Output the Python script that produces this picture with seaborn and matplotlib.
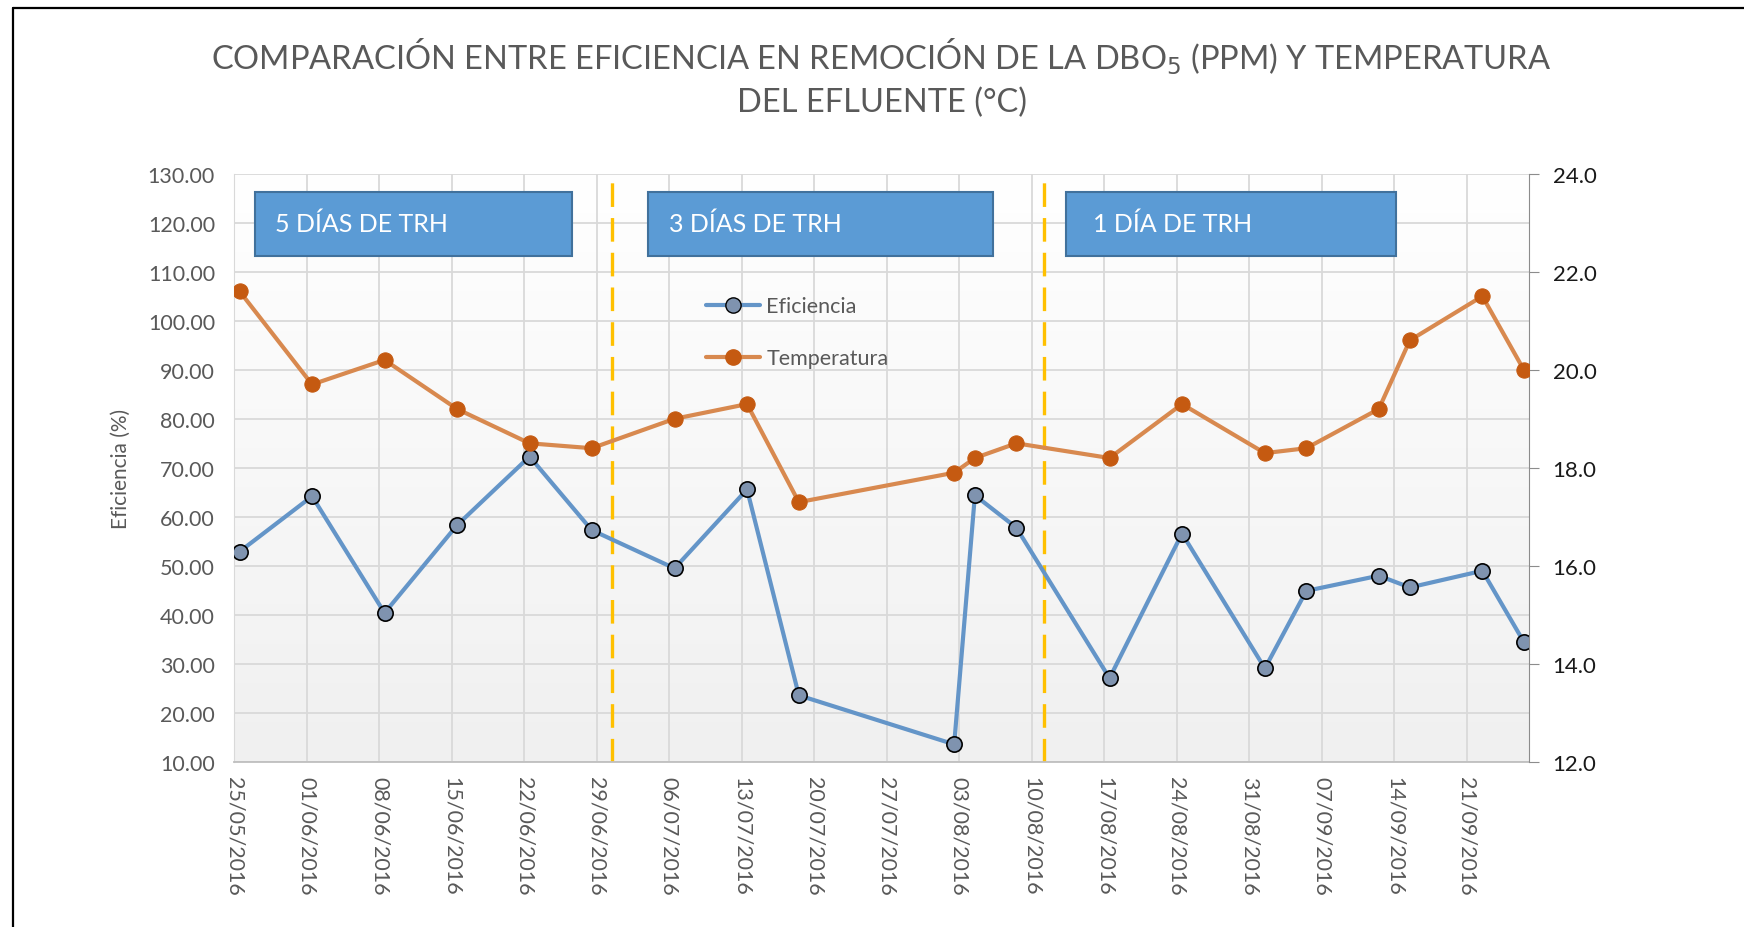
import numpy as np
import pandas as pd
import matplotlib
matplotlib.use("Agg")
import matplotlib.pyplot as plt
import matplotlib.dates as mdates
from matplotlib.patches import Rectangle
from matplotlib.lines import Line2D
import seaborn as sns

# datos
fechas = ["2016-05-25", "2016-06-01", "2016-06-08", "2016-06-15", "2016-06-22",
          "2016-06-28", "2016-07-06", "2016-07-13", "2016-07-18", "2016-08-02",
          "2016-08-04", "2016-08-08", "2016-08-17", "2016-08-24", "2016-09-01",
          "2016-09-05", "2016-09-12", "2016-09-15", "2016-09-22", "2016-09-26"]
eficiencia = [52.9, 64.2, 40.4, 58.3, 72.3, 57.3, 49.5, 65.6, 23.6, 13.6,
              64.4, 57.8, 27.1, 56.6, 29.1, 44.9, 48.0, 45.6, 49.0, 34.5]
temperatura = [21.6, 19.7, 20.2, 19.2, 18.5, 18.4, 19.0, 19.3, 17.3, 17.9,
               18.2, 18.5, 18.2, 19.3, 18.3, 18.4, 19.2, 20.6, 21.5, 20.0]
cortes = ["2016-06-30 12:00", "2016-08-11 05:00"]
etiquetas_trh = ["5 DÍAS DE TRH", "3 DÍAS DE TRH", "1 DÍA DE TRH"]

sns.set_style("white")
plt.rcParams['font.family'] = ['Lato', 'DejaVu Sans']
plt.rcParams['lines.scale_dashes'] = False

gris = '#595959'
df = pd.DataFrame({'fecha': pd.to_datetime(fechas) + pd.Timedelta(hours=12),
                   'Eficiencia': eficiencia, 'Temperatura': temperatura})

fig = plt.figure(figsize=(17.44, 9.28), dpi=100)
ax = fig.add_axes([0.1344, 0.1778, 0.7423, 0.634])
ax2 = ax.twinx()

# fondo degradado
grad = np.linspace(1, 0, 256).reshape(-1, 1)
ax.imshow(grad, extent=[0, 1, 0, 1], transform=ax.transAxes, aspect='auto',
          cmap=matplotlib.colors.LinearSegmentedColormap.from_list('g', ['#F0F0F0', '#FFFFFF']),
          zorder=0)

sns.lineplot(data=df, x='fecha', y='Eficiencia', ax=ax, color='#6495C8', linewidth=3,
             marker='o', markersize=11, markerfacecolor='#7F93AF', markeredgecolor='black',
             markeredgewidth=1.2, zorder=4, legend=False)
sns.lineplot(data=df, x='fecha', y='Temperatura', ax=ax2, color='#D8894F', linewidth=3,
             marker='o', markersize=11, markerfacecolor='#C55A11', markeredgecolor='#C55A11',
             zorder=3, legend=False)

ax.set_xlim(pd.Timestamp('2016-05-25'), pd.Timestamp('2016-09-27'))
ax.set_ylim(10, 130)
ax2.set_ylim(12, 24)
ax.set_yticks(np.arange(10, 131, 10))
ax.set_yticklabels([f"{v:.2f}" for v in np.arange(10, 131, 10)])
ax2.set_yticks(np.arange(12, 25, 2))
ax2.set_yticklabels([f"{v:.1f}" for v in np.arange(12, 25, 2)])

ticks = pd.date_range('2016-05-25', '2016-09-21', freq='7D')
ax.set_xticks(ticks)
ax.xaxis.set_major_formatter(mdates.DateFormatter('%d/%m/%Y'))
ax.tick_params(axis='x', labelrotation=-90, labelsize=15.5, labelcolor=gris, length=0, pad=10)
ax.tick_params(axis='y', labelsize=15.5, labelcolor=gris, length=0, pad=14)
ax2.tick_params(axis='y', labelsize=16, labelcolor='#1a1a1a', length=7, color='#8c8c8c',
                direction='out', pad=10)
ax.grid(True, color='#D9D9D9', linewidth=1.3, zorder=1)
ax.set_axisbelow(True)
ax.set_xlabel('')
ax.set_ylabel('Eficiencia (%)', fontsize=15, color=gris, labelpad=12)
ax2.set_ylabel('')
for a in (ax, ax2):
    for s in a.spines.values():
        s.set_visible(False)
ax.spines['bottom'].set_visible(True)
ax.spines['bottom'].set_color('#BFBFBF')
ax.spines['bottom'].set_linewidth(1.3)
ax.spines['left'].set_visible(True)
ax.spines['left'].set_color('#D9D9D9')
ax2.spines['right'].set_visible(True)
ax2.spines['right'].set_color('#8c8c8c')

# lineas de corte
for c in cortes:
    ax.axvline(pd.Timestamp(c), ymin=0, ymax=0.99, color='#FFC000', linewidth=2.4,
               dashes=(17, 8), zorder=2)

# cuadros de texto
cajas = [(0.0156, 0.2605), (0.3198, 0.586), (0.642, 0.897)]
margen = [0.016, 0.016, 0.021]
for (x0, x1), m, t in zip(cajas, margen, etiquetas_trh):
    ax2.add_patch(Rectangle((x0, 0.86), x1 - x0, 0.108, transform=ax2.transAxes,
                            facecolor='#5B9BD5', edgecolor='#41719C', linewidth=1.5, zorder=5))
    ax2.text(x0 + m, 0.916, t, transform=ax2.transAxes, color='white', fontsize=18,
             va='center', ha='left', zorder=6)

# leyenda
handles = [Line2D([], [], color='#6495C8', linewidth=3, marker='o', markersize=11,
                  markerfacecolor='#7F93AF', markeredgecolor='black'),
           Line2D([], [], color='#D8894F', linewidth=3, marker='o', markersize=11,
                  markerfacecolor='#C55A11', markeredgecolor='#C55A11')]
leg = ax2.legend(handles, ['Eficiencia', 'Temperatura'], loc='upper left',
                 bbox_to_anchor=(0.356, 0.81), frameon=False, fontsize=15.5,
                 labelspacing=1.5, handlelength=2.5, handletextpad=0.3, borderpad=0)
for t in leg.get_texts():
    t.set_color(gris)

fig.text(0.5055, 0.917, 'COMPARACIÓN ENTRE EFICIENCIA EN REMOCIÓN DE LA DBO$_5$ (PPM) Y TEMPERATURA\nDEL EFLUENTE (°C)',
         ha='center', va='center', fontsize=23.5, color=gris, linespacing=1.45)

# marco exterior
fig.add_artist(Line2D([0.00745, 1], [0.9903, 0.9903], color='black', linewidth=1.6,
                      transform=fig.transFigure))
fig.add_artist(Line2D([0.00745, 0.00745], [0, 0.9903], color='black', linewidth=1.6,
                      transform=fig.transFigure))

fig.savefig('out.png', dpi=100)
